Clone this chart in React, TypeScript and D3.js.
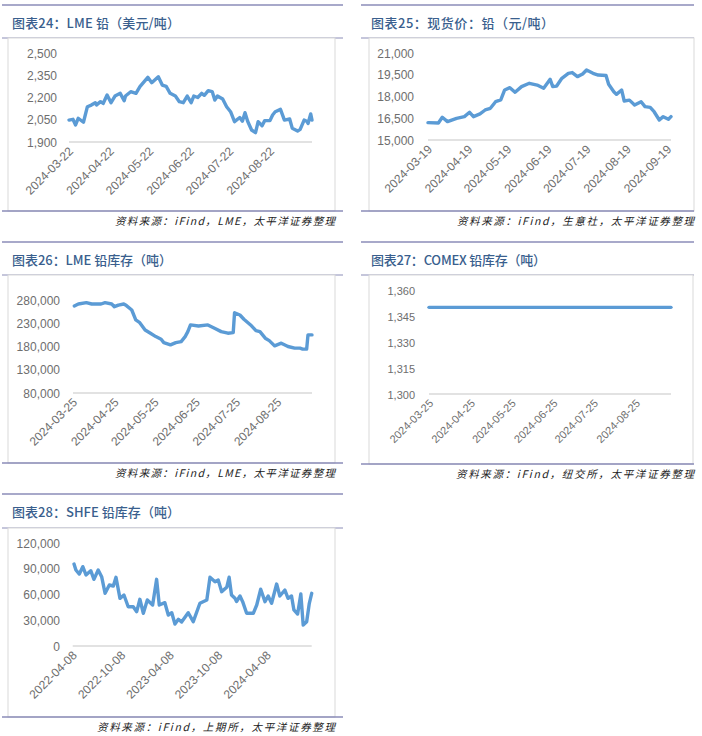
import React from "react";
import * as d3 from "d3";

// ---------- Data ----------
// 图表24: LME 铅（美元/吨）
const lmePriceDates = [
  "2024-03-22","2024-03-25","2024-03-27","2024-03-29","2024-04-02","2024-04-05","2024-04-08","2024-04-11","2024-04-12","2024-04-15",
  "2024-04-17","2024-04-20","2024-04-23","2024-04-26","2024-04-30","2024-05-03","2024-05-04","2024-05-08","2024-05-12","2024-05-15",
  "2024-05-21","2024-05-24","2024-05-29","2024-06-01","2024-06-04","2024-06-07","2024-06-11","2024-06-14","2024-06-17","2024-06-20",
  "2024-06-23","2024-06-25","2024-06-28","2024-07-01","2024-07-03","2024-07-06","2024-07-09","2024-07-11","2024-07-13","2024-07-17",
  "2024-07-20","2024-07-23","2024-07-26","2024-07-30","2024-08-01","2024-08-03","2024-08-05","2024-08-08","2024-08-11","2024-08-13",
  "2024-08-16","2024-08-18","2024-08-22","2024-08-24","2024-08-26","2024-08-30","2024-09-02","2024-09-06","2024-09-08","2024-09-12",
  "2024-09-14","2024-09-17","2024-09-19","2024-09-20","2024-09-22","2024-09-23"
];
const lmePriceValues = [
  2048,2053,2015,2060,2033,2138,2149,2165,2150,2172,
  2160,2217,2165,2210,2228,2178,2210,2239,2228,2273,
  2336,2300,2340,2284,2275,2228,2210,2172,2165,2210,
  2165,2210,2200,2228,2215,2246,2240,2183,2210,2190,
  2138,2104,2037,2065,2040,2098,2040,1981,1963,2037,
  2010,2044,2044,2082,2104,2120,2048,2055,1992,1974,
  1985,2048,2040,2025,2089,2048
];
const lmePriceYTicks = [1900, 2050, 2200, 2350, 2500];
const lmePriceXTicks = ["2024-03-22","2024-04-22","2024-05-22","2024-06-22","2024-07-22","2024-08-22"];

// 图表25: 现货价：铅（元/吨）
const spotDates = [
  "2024-03-19","2024-03-27","2024-03-30","2024-04-03","2024-04-10","2024-04-16","2024-04-20","2024-04-23","2024-04-28","2024-05-02",
  "2024-05-06","2024-05-10","2024-05-14","2024-05-17","2024-05-21","2024-05-25","2024-05-30","2024-06-05","2024-06-11","2024-06-16",
  "2024-06-21","2024-06-23","2024-06-26","2024-06-30","2024-07-05","2024-07-08","2024-07-12","2024-07-16","2024-07-19","2024-07-24",
  "2024-07-28","2024-08-03","2024-08-05","2024-08-09","2024-08-11","2024-08-15","2024-08-17","2024-08-21","2024-08-25","2024-08-30",
  "2024-09-02","2024-09-06","2024-09-09","2024-09-13","2024-09-16","2024-09-20","2024-09-22"
];
const spotValues = [
  16195,16170,16566,16265,16497,16610,16910,16610,16800,17070,
  17185,17640,17760,18450,18610,18290,18680,18910,18790,18565,
  19185,18680,18720,19255,19600,19650,19370,19550,19830,19600,
  19480,19450,18840,18330,18150,18450,17690,17750,17410,17640,
  17300,17250,16950,16380,16610,16430,16610
];
const spotYTicks = [15000, 16500, 18000, 19500, 21000];
const spotXTicks = ["2024-03-19","2024-04-19","2024-05-19","2024-06-19","2024-07-19","2024-08-19","2024-09-19"];

// 图表26: LME 铅库存（吨）
const lmeStockDates = [
  "2024-03-26","2024-03-29","2024-04-04","2024-04-08","2024-04-15","2024-04-18","2024-04-23","2024-04-25","2024-04-28","2024-05-02",
  "2024-05-04","2024-05-08","2024-05-11","2024-05-14","2024-05-18","2024-05-22","2024-05-26","2024-05-30","2024-06-01","2024-06-06",
  "2024-06-10","2024-06-14","2024-06-17","2024-06-19","2024-06-21","2024-06-27","2024-07-04","2024-07-09","2024-07-14","2024-07-19",
  "2024-07-23","2024-07-24","2024-07-28","2024-07-31","2024-08-05","2024-08-09","2024-08-12","2024-08-16","2024-08-19","2024-08-23",
  "2024-08-28","2024-09-02","2024-09-07","2024-09-11","2024-09-13","2024-09-16","2024-09-17","2024-09-20"
];
const lmeStockValues = [
  267100,271400,274200,271400,271400,274200,271400,265600,269000,271400,
  268000,258500,237100,231300,215600,208600,201300,195700,188400,183500,
  188400,190600,201300,212000,226400,224200,226400,219300,212000,208600,
  209900,252700,247800,238600,226400,214200,212000,197900,192700,181400,
  187100,180000,176400,176400,174300,174300,205000,205000
];
const lmeStockYTicks = [80000, 130000, 180000, 230000, 280000];
const lmeStockXTicks = ["2024-03-25","2024-04-25","2024-05-25","2024-06-25","2024-07-25","2024-08-25"];

// 图表27: COMEX 铅库存（吨）
const comexDates = ["2024-03-25", "2024-09-20"];
const comexValues = [1350, 1350];
const comexYTicks = [1300, 1315, 1330, 1345, 1360];
const comexXTicks = ["2024-03-25","2024-04-25","2024-05-25","2024-06-25","2024-07-25","2024-08-25"];

// 图表28: SHFE 铅库存（吨）
const shfeDates = [
  "2022-04-13","2022-04-20","2022-05-03","2022-05-16","2022-05-28","2022-06-15","2022-06-27","2022-07-13","2022-07-26","2022-08-08",
  "2022-08-24","2022-09-08","2022-09-18","2022-10-03","2022-10-18","2022-11-03","2022-11-22","2022-12-05","2022-12-17","2022-12-30",
  "2023-01-14","2023-02-03","2023-02-18","2023-02-28","2023-03-21","2023-04-03","2023-04-16","2023-04-28","2023-05-11","2023-05-23",
  "2023-06-17","2023-07-06","2023-07-31","2023-08-26","2023-09-07","2023-09-26","2023-10-08","2023-10-21","2023-11-09","2023-11-18",
  "2023-11-27","2023-12-10","2023-12-16","2023-12-29","2024-01-08","2024-01-23","2024-02-17","2024-03-01","2024-03-16","2024-04-01",
  "2024-04-13","2024-04-26","2024-05-15","2024-05-27","2024-06-15","2024-06-27","2024-07-10","2024-07-19","2024-08-02","2024-08-14",
  "2024-08-23","2024-09-05","2024-09-15","2024-09-24"
];
const shfeValues = [
  95800,88800,84100,92700,83000,88000,77900,88800,81000,61600,
  71300,70100,80300,55700,59600,45900,45900,40100,54600,38200,
  53800,47900,77900,47900,50600,36200,38900,25700,31200,28000,
  38900,28400,49900,53800,80300,75100,77000,63500,68600,80300,
  59600,55700,52000,58400,51800,38200,38200,47900,66300,51800,
  58400,49900,72400,58400,65400,55700,58400,42100,37400,60800,
  24500,28400,49900,61600
];
const shfeYTicks = [0, 30000, 60000, 90000, 120000];
const shfeXTicks = ["2022-04-08","2022-10-08","2023-04-08","2023-10-08","2024-04-08"];

// ---------- Layout ----------
const parse = d3.timeParse("%Y-%m-%d");
const fmt = d3.format(",");

const RULE = "#8B8DB8";
const TITLE = "#3A5F8E";
const LINE = "#5B9BD5";
const AXIS_TEXT = "#6E6E6E";
const GRID = "#D9D9D9";

type PanelProps = {
  title: string;
  source: string;
  dates: string[];
  values: number[];
  yTicks: number[];
  xTicks: string[];
  xDomain: [string, string];
  rx0: number; rx1: number;
  topRule: number; subRule: number; bottomRule: number;
  titleX: number; titleW: number;
  boxX0: number; boxX1: number;
  plotX0: number; plotX1: number; plotYTop: number; plotYBottom: number;
  labelRight: number;
  sourceX0: number; sourceX1: number;
  tickFont?: number;
};

function Panel(p: PanelProps) {
  const x = d3.scaleTime()
    .domain([parse(p.xDomain[0])!, parse(p.xDomain[1])!])
    .range([p.plotX0, p.plotX1]);
  const y = d3.scaleLinear()
    .domain([p.yTicks[0], p.yTicks[p.yTicks.length - 1]])
    .range([p.plotYBottom, p.plotYTop]);
  const pts = p.dates.map((d, i) => [x(parse(d)!), y(p.values[i])] as [number, number]);
  const path = d3.line()(pts) || "";
  const fs = p.tickFont ?? 12;
  return (
    <g>
      <line x1={p.rx0} x2={p.rx1} y1={p.topRule} y2={p.topRule} stroke={RULE} strokeWidth={1.5} />
      <text x={p.titleX} y={p.topRule + 23} textLength={p.titleW} lengthAdjust="spacing"
        fontFamily="'Noto Sans CJK SC', sans-serif" fontSize={13}
        fill={TITLE} fontWeight={500}>{p.title}</text>
      <line x1={p.rx0} x2={p.rx1} y1={p.subRule} y2={p.subRule} stroke={RULE} strokeWidth={1.2} />
      <rect x={p.boxX0} y={p.subRule} width={p.boxX1 - p.boxX0} height={p.bottomRule - p.subRule}
        fill="#fff" stroke={GRID} strokeWidth={1} />
      <line x1={p.rx0} x2={p.rx1} y1={p.bottomRule} y2={p.bottomRule} stroke={RULE} strokeWidth={1.5} />
      <line x1={p.plotX0} x2={p.plotX1} y1={y(p.yTicks[0])} y2={y(p.yTicks[0])} stroke={GRID} strokeWidth={1.5} />
      {p.yTicks.map((t) => (
        <text key={t} x={p.labelRight} y={y(t) + 4.5} textAnchor="end"
          fontFamily="'Liberation Sans', Arial, sans-serif" fontSize={fs} fill={AXIS_TEXT}>{fmt(t)}</text>
      ))}
      {p.xTicks.map((t) => {
        const tx = x(parse(t)!);
        const ty = p.plotYBottom + 10;
        return (
          <text key={t} transform={`translate(${tx + 5},${ty}) rotate(-45)`} textAnchor="end"
            fontFamily="'Liberation Sans', Arial, sans-serif" fontSize={fs} fill={AXIS_TEXT}>{t}</text>
        );
      })}
      <path d={path} fill="none" stroke={LINE} strokeWidth={3.4} strokeLinejoin="round" strokeLinecap="round" />
      <text x={p.sourceX0} y={p.bottomRule + 14} textLength={p.sourceX1 - p.sourceX0} lengthAdjust="spacing"
        fontFamily="'Noto Sans CJK SC', sans-serif" fontSize={10.5} fontStyle="italic" fill="#222">{p.source}</text>
    </g>
  );
}

export default function App() {
  return (
    <div style={{ position: "absolute", left: 0, top: 0, width: 702, height: 736, background: "#fff" }}>
      <svg width={702} height={736} style={{ display: "block" }}>
        <rect width={702} height={736} fill="#fff" />
        <Panel title="图表24：LME 铅（美元/吨）" source="资料来源：iFind，LME，太平洋证券整理"
          dates={lmePriceDates} values={lmePriceValues} yTicks={lmePriceYTicks} xTicks={lmePriceXTicks}
          xDomain={["2024-03-22", "2024-09-23"]}
          rx0={2} rx1={343} topRule={5} subRule={38} bottomRule={211} titleX={12} titleW={168}
          boxX0={8} boxX1={335} plotX0={69} plotX1={312} plotYTop={53} plotYBottom={142}
          labelRight={57} sourceX0={115} sourceX1={335} />
        <Panel title="图表25：现货价：铅（元/吨）" source="资料来源：iFind，生意社，太平洋证券整理"
          dates={spotDates} values={spotValues} yTicks={spotYTicks} xTicks={spotXTicks}
          xDomain={["2024-03-19", "2024-09-22"]}
          rx0={361} rx1={694} topRule={5} subRule={38} bottomRule={211} titleX={371} titleW={183}
          boxX0={369} boxX1={694} plotX0={428} plotX1={671} plotYTop={53} plotYBottom={140}
          labelRight={414} sourceX0={457} sourceX1={694} />
        <Panel title="图表26：LME 铅库存（吨）" source="资料来源：iFind，LME，太平洋证券整理"
          dates={lmeStockDates} values={lmeStockValues} yTicks={lmeStockYTicks} xTicks={lmeStockXTicks}
          xDomain={["2024-03-25", "2024-09-20"]}
          rx0={2} rx1={343} topRule={242} subRule={275} bottomRule={463} titleX={12} titleW={160}
          boxX0={8} boxX1={335} plotX0={73} plotX1={312} plotYTop={300} plotYBottom={393}
          labelRight={60} sourceX0={115} sourceX1={335} />
        <Panel title="图表27：COMEX 铅库存（吨）" source="资料来源：iFind，纽交所，太平洋证券整理"
          dates={comexDates} values={comexValues} yTicks={comexYTicks} xTicks={comexXTicks}
          xDomain={["2024-03-25", "2024-09-20"]}
          rx0={361} rx1={694} topRule={242} subRule={275} bottomRule={464} titleX={371} titleW={175}
          boxX0={369} boxX1={693} plotX0={429} plotX1={671} plotYTop={290} plotYBottom={394}
          labelRight={415} sourceX0={456} sourceX1={694} tickFont={11} />
        <Panel title="图表28：SHFE 铅库存（吨）" source="资料来源：iFind，上期所，太平洋证券整理"
          dates={shfeDates} values={shfeValues} yTicks={shfeYTicks} xTicks={shfeXTicks}
          xDomain={["2022-04-08", "2024-09-24"]}
          rx0={2} rx1={343} topRule={494} subRule={528} bottomRule={717} titleX={12} titleW={168}
          boxX0={8} boxX1={335} plotX0={72.7} plotX1={311.7} plotYTop={543.3} plotYBottom={646}
          labelRight={60} sourceX0={97} sourceX1={335} />
      </svg>
    </div>
  );
}
